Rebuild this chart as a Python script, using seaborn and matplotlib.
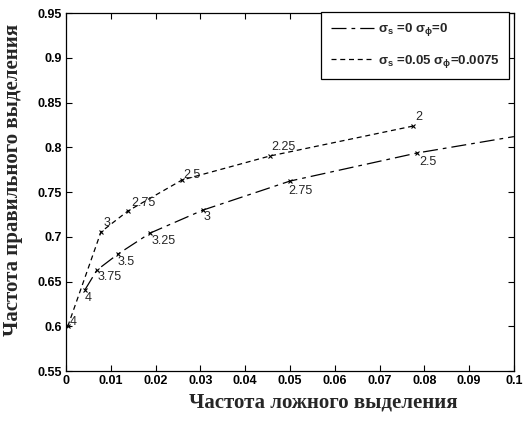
import pandas as pd
import matplotlib
matplotlib.use("Agg")
import matplotlib.pyplot as plt
import seaborn as sns

# Кривая 1: sigma_s = 0, sigma_phi = 0
far1 = [0.0042, 0.0069, 0.0116, 0.0188, 0.0306, 0.0500, 0.0783, 0.1000]
hit1 = [0.6405, 0.6628, 0.6807, 0.7042, 0.7299, 0.7623, 0.7936, 0.8120]
thr1 = [4, 3.75, 3.5, 3.25, 3, 2.75, 2.5, None]

# Кривая 2: sigma_s = 0.05, sigma_phi = 0.0075
far2 = [0.0004, 0.0078, 0.0138, 0.0259, 0.0455, 0.0775]
hit2 = [0.6000, 0.7054, 0.7288, 0.7635, 0.7903, 0.8238]
thr2 = [4, 3, 2.75, 2.5, 2.25, 2]

# смещения подписей порогов (пиксели)
off1 = [(0, -8), (1, -7), (0, -8), (1, -8), (0, -7), (-2, -10), (3, -9), None]
off2 = [(2, 4), (3, 9), (3, 8), (1, 5), (2, 9), (2, 9)]

labels = [r"$\sigma_s$ =0 $\sigma_\phi$=0",
          r"$\sigma_s$ =0.05 $\sigma_\phi$=0.0075"]

xticks = [0, 0.01, 0.02, 0.03, 0.04, 0.05, 0.06, 0.07, 0.08, 0.09, 0.1]
yticks = [0.55, 0.6, 0.65, 0.7, 0.75, 0.8, 0.85, 0.9, 0.95]

df = pd.concat([
    pd.DataFrame({"far": far1, "hit": hit1, "curve": labels[0]}),
    pd.DataFrame({"far": far2, "hit": hit2, "curve": labels[1]}),
], ignore_index=True)

sns.set_theme(style="ticks")
plt.rcParams["font.family"] = ["Liberation Sans", "DejaVu Sans"]
plt.rcParams["mathtext.default"] = "regular"

fig = plt.figure(figsize=(5.26, 4.24), dpi=100)
ax = fig.add_axes([0.1255, 0.125, 0.8515, 0.844])

sns.lineplot(data=df, x="far", y="hit", hue="curve", style="curve",
             palette=["black", "black"], dashes=[(12, 4, 3, 4), (4, 3)],
             sort=False, estimator=None, linewidth=0.9,
             marker="x", markersize=3.5, markeredgewidth=0.8,
             markeredgecolor="black", ax=ax)
# у крайней точки первой кривой маркера нет
ax.lines[0].set_markevery([i for i, t in enumerate(thr1) if t is not None])

for xs, ys, ts, offs in [(far1, hit1, thr1, off1), (far2, hit2, thr2, off2)]:
    for x, y, t, o in zip(xs, ys, ts, offs):
        if t is None:
            continue
        ax.annotate(f"{t:g}", (x, y), xytext=o, textcoords="offset pixels",
                    ha="left", va="center", fontsize=9)

ax.set_xlim(0, 0.1)
ax.set_ylim(0.55, 0.95)
ax.set_xticks(xticks)
ax.set_yticks(yticks)
ax.set_xticklabels([f"{v:g}" for v in xticks], fontsize=9, fontweight="bold")
ax.set_yticklabels([f"{v:g}" for v in yticks], fontsize=9, fontweight="bold")
ax.tick_params(direction="in", length=4, width=0.8, top=True, right=True,
               colors="black", pad=3)
for s in ax.spines.values():
    s.set_linewidth(0.9)
    s.set_color("black")

ax.set_xlabel("Частота ложного выделения", family="Liberation Serif",
              fontweight="bold", fontsize=15)
ax.set_ylabel("Частота правильного выделения", family="Liberation Serif",
              fontweight="bold", fontsize=15)
ax.xaxis.set_label_coords(0.575, -0.087)
ax.xaxis.label.set_va("center")
ax.yaxis.set_label_coords(-0.118, 0.535)
ax.yaxis.label.set_va("center")

leg = ax.legend(loc="upper right", bbox_to_anchor=(0.99, 1.003),
                borderaxespad=0, prop={"size": 9.5, "weight": "bold"},
                frameon=True, fancybox=False,
                edgecolor="black", framealpha=1, handlelength=3.3,
                handletextpad=0.3, labelspacing=1.1, borderpad=0.7)
leg.get_frame().set_linewidth(0.9)
for line in leg.get_lines():
    line.set_marker("")

fig.savefig("out.png", dpi=100, facecolor="white")
